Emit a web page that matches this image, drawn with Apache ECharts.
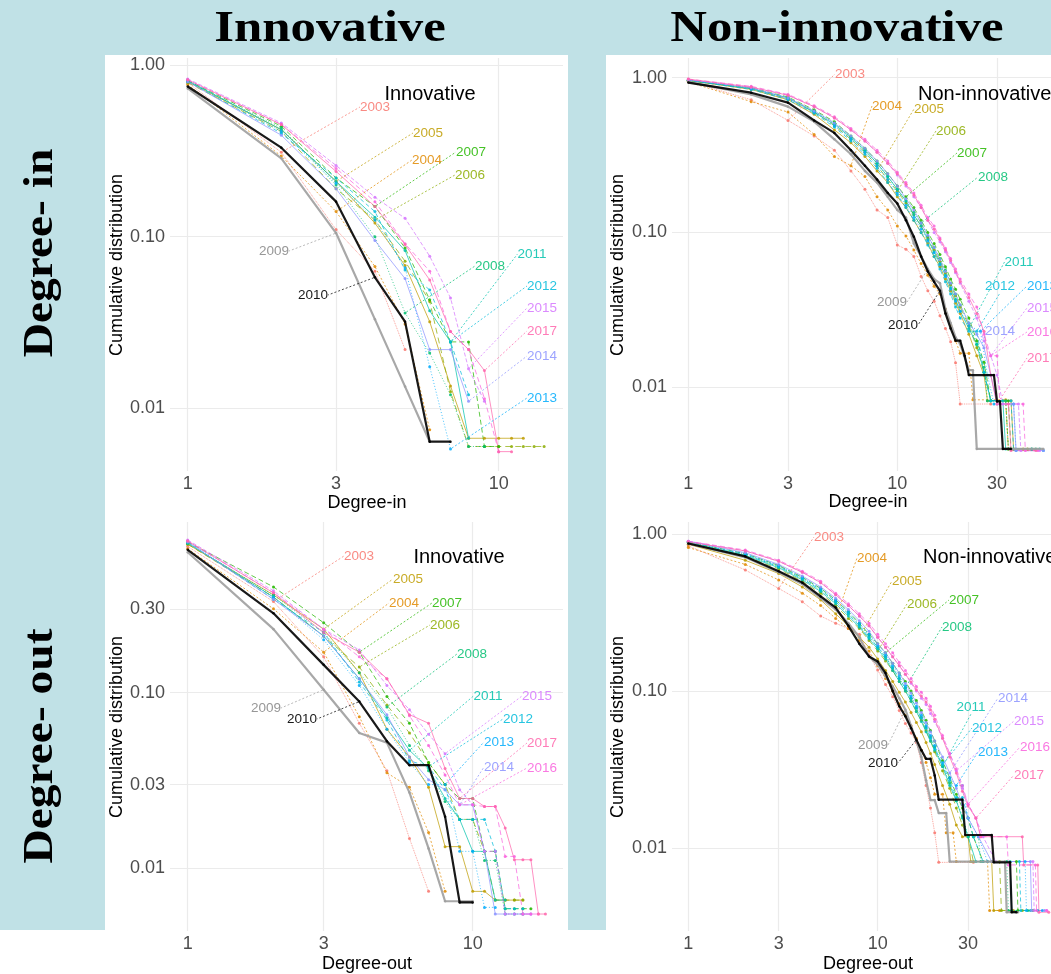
<!DOCTYPE html>
<html>
<head>
<meta charset="utf-8">
<script src="https://cdn.jsdelivr.net/npm/echarts@6/dist/echarts.min.js"></script>
<style>
html,body{margin:0;padding:0;background:#fff;}
#main{width:1051px;height:974px;}
</style>
</head>
<body>
<div id="main"></div>
<script>
// years and their styles
var years = ['2003','2004','2005','2006','2007','2008','2009','2010','2011','2012','2013','2014','2015','2016','2017'];
var yearColors = ['#F8766D','#E18A00','#BE9C00','#8CAB00','#24B700','#00BE70','#9e9e9e','#000000','#00C1AB','#00BBDA','#00ACFC','#8B93FF','#D575FE','#F962DD','#FF65AC'];
var yearDash = ['dotted',[2,2],'solid',[6,4],[5,3],[1,2],'solid','solid','solid',[4,3],[1,2],'solid',[4,2],[5,3],'solid'];

// Innovative, degree-in : value at degree 1,2,3...
var inInnov = [
	[0.79,0.31,0.11,0.063,0.022],
	[0.77,0.295,0.14,0.067,0.031,0.0075],
	[0.80,0.42,0.21,0.12,0.068,0.032,0.0135,0.0067,0.0067,0.0067,0.0067,0.0067],
	[0.79,0.41,0.19,0.125,0.072,0.042,0.0125,0.006,0.006,0.006,0.006,0.006,0.006,0.006],
	[0.81,0.44,0.22,0.15,0.086,0.043,0.0244,0.0244,0.006,0.006],
	[0.80,0.43,0.20,0.10,0.036,0.021,0.012,0.006,0.006],
	[0.73,0.286,0.105,0.033,0.0134,0.0064],
	[0.75,0.33,0.16,0.058,0.032,0.0064,0.0064],
	[0.81,0.42,0.21,0.13,0.083,0.037,0.0244,0.0067],
	[0.80,0.40,0.22,0.14,0.064,0.049,0.0244,0.012],
	[0.82,0.41,0.205,0.125,0.066,0.0175,0.0058],
	[0.80,0.39,0.19,0.095,0.057,0.022,0.022,0.011],
	[0.83,0.46,0.26,0.17,0.128,0.077,0.044,0.017,0.011],
	[0.82,0.45,0.25,0.16,0.091,0.063,0.028,0.022,0.0114,0.0056],
	[0.82,0.45,0.24,0.15,0.09,0.056,0.028,0.022,0.0166,0.0056,0.0056]
];
var inInnovAnchor = [2,3,3,4,4,5,3,4,7,7,7,8,8,null,9];

// Innovative, degree-out : value at degree 1,2,3...
var outInnov = [
	[0.68,0.33,0.16,0.067,0.036,0.0148,0.0074],
	[0.66,0.30,0.17,0.073,0.035,0.029,0.016,0.0074],
	[0.70,0.36,0.23,0.13,0.062,0.043,0.029,0.0133,0.0133,0.0074,0.0074,0.0066,0.0066,0.0066,0.0066],
	[0.70,0.35,0.21,0.14,0.085,0.059,0.04,0.03,0.019,0.019,0.0125,0.0066,0.0066,0.0066,0.0066],
	[0.72,0.40,0.25,0.17,0.095,0.067,0.04,0.03,0.025,0.025,0.0125,0.0125,0.0059,0.0059,0.0059,0.0059],
	[0.71,0.36,0.22,0.13,0.083,0.05,0.036,0.024,0.019,0.019,0.0111,0.0111,0.0055,0.0055,0.0055],
	[0.63,0.23,0.104,0.059,0.052,0.027,0.013,0.0065,0.0065,0.0065],
	[0.65,0.283,0.144,0.089,0.053,0.0387,0.0387,0.0197,0.0064,0.0064],
	[0.71,0.35,0.21,0.12,0.072,0.047,0.037,0.025,0.019,0.0125,0.0125,0.0066,0.0066],
	[0.72,0.34,0.22,0.115,0.07,0.041,0.038,0.028,0.019,0.019,0.019,0.0125,0.0059,0.0059,0.0059],
	[0.73,0.35,0.20,0.11,0.062,0.040,0.030,0.030,0.0125,0.0125,0.006,0.006],
	[0.72,0.34,0.21,0.12,0.075,0.043,0.032,0.028,0.023,0.023,0.0125,0.0055,0.0055,0.0055,0.0055,0.0055],
	[0.74,0.38,0.23,0.175,0.11,0.08,0.058,0.045,0.028,0.023,0.0125,0.0125,0.0055,0.0055,0.0055,0.0055],
	[0.73,0.37,0.23,0.16,0.12,0.074,0.05,0.034,0.023,0.023,0.0225,0.0225,0.0117,0.0117,0.0055,0.0055,0.0055],
	[0.73,0.37,0.22,0.17,0.12,0.075,0.067,0.037,0.025,0.025,0.0225,0.0225,0.017,0.0112,0.0112,0.0112,0.0055,0.0055]
];
var outInnovAnchor = [2,3,3,4,4,5,3,4,6,7,8,9,8,9,9];

// Non-innovative, degree-in : [degree, value]
var inNon = [
	[[1,0.95],[2,0.72],[3,0.53],[4,0.42],[5,0.34],[6,0.25],[7,0.19],[8,0.14],[9,0.125],[10,0.083],[11,0.078],[12,0.07],[13,0.052],[14,0.042],[15,0.036],[16,0.029],[17,0.024],[18,0.0197],[19,0.0144],[20,0.0078],[28,0.0078]],
	[[1,0.94],[2,0.70],[3,0.60],[4,0.43],[5,0.31],[6,0.27],[7,0.23],[8,0.17],[9,0.14],[10,0.11],[11,0.095],[12,0.077],[13,0.063],[14,0.053],[15,0.045],[16,0.04],[17,0.032],[18,0.025],[19,0.02],[20,0.0166],[22,0.0166],[23,0.0083],[33,0.0083],[34,0.004],[36,0.004]],
	[[1,0.96],[2,0.84],[3,0.72],[4,0.58],[5,0.46],[6,0.38],[7,0.31],[8,0.25],[9,0.21],[10,0.17],[11,0.145],[12,0.12],[13,0.10],[14,0.085],[15,0.07],[16,0.06],[17,0.05],[18,0.042],[19,0.035],[20,0.03],[22,0.022],[24,0.016],[26,0.012],[27,0.0082],[35,0.0082],[36,0.004],[40,0.004]],
	[[1,0.96],[2,0.85],[3,0.73],[4,0.60],[5,0.49],[6,0.40],[7,0.33],[8,0.27],[9,0.22],[10,0.185],[11,0.155],[12,0.13],[13,0.11],[14,0.092],[15,0.077],[16,0.065],[17,0.055],[18,0.046],[19,0.039],[20,0.033],[22,0.025],[24,0.018],[26,0.0125],[28,0.0082],[33,0.0082],[34,0.004],[42,0.004]],
	[[1,0.96],[2,0.86],[3,0.75],[4,0.62],[5,0.52],[6,0.42],[7,0.35],[8,0.29],[9,0.24],[10,0.20],[11,0.17],[12,0.145],[13,0.12],[14,0.10],[15,0.085],[16,0.072],[17,0.06],[18,0.05],[19,0.043],[20,0.037],[22,0.028],[24,0.02],[26,0.0145],[28,0.0082],[34,0.0082],[35,0.004],[44,0.004]],
	[[1,0.96],[2,0.86],[3,0.74],[4,0.61],[5,0.51],[6,0.41],[7,0.34],[8,0.28],[9,0.23],[10,0.19],[11,0.16],[12,0.135],[13,0.115],[14,0.095],[15,0.08],[16,0.068],[17,0.057],[18,0.047],[19,0.04],[20,0.034],[22,0.026],[24,0.019],[26,0.0135],[27,0.0082],[33,0.0082],[34,0.004],[46,0.004]],
	[[1,0.94],[2,0.78],[3,0.65],[4,0.52],[5,0.40],[6,0.32],[7,0.25],[8,0.21],[9,0.17],[10,0.14],[11,0.125],[12,0.085],[13,0.07],[14,0.058],[15,0.05],[16,0.047],[17,0.032],[18,0.026],[19,0.021],[20,0.019],[22,0.0129],[23,0.0129],[24,0.004],[50,0.004]],
	[[1,0.93],[2,0.80],[3,0.69],[4,0.53],[5,0.44],[6,0.34],[7,0.27],[8,0.22],[9,0.18],[10,0.154],[11,0.12],[12,0.094],[13,0.07],[14,0.056],[15,0.048],[16,0.042],[17,0.03],[18,0.024],[19,0.020],[20,0.020],[21,0.016],[22,0.012],[29,0.012],[30,0.0081],[31,0.0081],[32,0.004],[35,0.004]],
	[[1,0.96],[2,0.85],[3,0.74],[4,0.60],[5,0.50],[6,0.41],[7,0.34],[8,0.28],[9,0.23],[10,0.19],[11,0.16],[12,0.13],[13,0.11],[14,0.09],[15,0.075],[16,0.063],[17,0.053],[18,0.044],[19,0.037],[20,0.031],[22,0.024],[24,0.019],[26,0.0125],[28,0.0082],[32,0.0082],[33,0.004],[48,0.004]],
	[[1,0.96],[2,0.84],[3,0.72],[4,0.59],[5,0.48],[6,0.39],[7,0.32],[8,0.26],[9,0.21],[10,0.175],[11,0.145],[12,0.12],[13,0.10],[14,0.083],[15,0.07],[16,0.058],[17,0.048],[18,0.04],[19,0.033],[20,0.028],[22,0.023],[24,0.023],[26,0.0125],[28,0.0082],[35,0.0082],[36,0.004],[44,0.004]],
	[[1,0.97],[2,0.85],[3,0.73],[4,0.60],[5,0.49],[6,0.40],[7,0.33],[8,0.27],[9,0.22],[10,0.18],[11,0.15],[12,0.125],[13,0.105],[14,0.088],[15,0.074],[16,0.062],[17,0.052],[18,0.043],[19,0.036],[20,0.031],[22,0.025],[25,0.023],[27,0.012],[29,0.0078],[36,0.0078],[37,0.0039],[50,0.0039]],
	[[1,0.97],[2,0.86],[3,0.74],[4,0.61],[5,0.51],[6,0.42],[7,0.35],[8,0.29],[9,0.24],[10,0.20],[11,0.165],[12,0.14],[13,0.115],[14,0.096],[15,0.08],[16,0.067],[17,0.056],[18,0.047],[19,0.04],[20,0.034],[22,0.026],[24,0.022],[26,0.018],[28,0.012],[30,0.0078],[36,0.0078],[37,0.0039],[50,0.0039]],
	[[1,0.97],[2,0.87],[3,0.77],[4,0.65],[5,0.55],[6,0.46],[7,0.39],[8,0.33],[9,0.28],[10,0.235],[11,0.20],[12,0.17],[13,0.145],[14,0.12],[15,0.10],[16,0.087],[17,0.075],[18,0.064],[19,0.055],[20,0.047],[22,0.036],[24,0.028],[26,0.02],[28,0.016],[30,0.012],[32,0.0078],[38,0.0078],[39,0.0039],[48,0.0039]],
	[[1,0.98],[2,0.88],[3,0.78],[4,0.66],[5,0.56],[6,0.47],[7,0.40],[8,0.34],[9,0.29],[10,0.245],[11,0.21],[12,0.18],[13,0.15],[14,0.125],[15,0.11],[16,0.092],[17,0.079],[18,0.068],[19,0.058],[20,0.05],[22,0.04],[24,0.033],[26,0.022],[28,0.016],[30,0.016],[31,0.0078],[40,0.0078],[41,0.0039],[47,0.0039]],
	[[1,0.98],[2,0.87],[3,0.77],[4,0.65],[5,0.55],[6,0.46],[7,0.39],[8,0.33],[9,0.28],[10,0.24],[11,0.205],[12,0.175],[13,0.145],[14,0.12],[15,0.105],[16,0.09],[17,0.077],[18,0.066],[19,0.056],[20,0.048],[22,0.038],[24,0.03],[26,0.023],[28,0.012],[30,0.0078],[34,0.0078],[35,0.0039],[46,0.0039]]
];
var inNonAnchor = [3,6,8,10,11,13,14,16,22,24,25,26,28,28,30];

// Non-innovative, degree-out : [degree, value]
var outNon = [
	[[1,0.84],[2,0.59],[3,0.45],[4,0.37],[5,0.30],[6,0.27],[7,0.25],[8,0.23],[9,0.17],[10,0.136],[11,0.11],[12,0.092],[13,0.075],[14,0.062],[15,0.054],[16,0.047],[17,0.035],[18,0.025],[19,0.018],[20,0.0125],[21,0.0081],[32,0.0081]],
	[[1,0.82],[2,0.64],[3,0.51],[4,0.42],[5,0.35],[6,0.29],[7,0.25],[8,0.21],[9,0.18],[10,0.145],[11,0.12],[12,0.10],[13,0.083],[14,0.07],[15,0.06],[16,0.05],[17,0.042],[18,0.035],[19,0.028],[20,0.022],[22,0.022],[23,0.0125],[25,0.0125],[26,0.0082],[38,0.0082],[39,0.004],[44,0.004]],
	[[1,0.86],[2,0.68],[3,0.56],[4,0.46],[5,0.38],[6,0.31],[7,0.26],[8,0.22],[9,0.19],[10,0.16],[11,0.135],[12,0.115],[13,0.098],[14,0.085],[15,0.073],[16,0.063],[17,0.055],[18,0.047],[19,0.04],[20,0.034],[22,0.025],[24,0.019],[26,0.014],[28,0.0118],[30,0.0118],[31,0.0082],[40,0.0082],[41,0.004],[52,0.004]],
	[[1,0.88],[2,0.72],[3,0.60],[4,0.50],[5,0.42],[6,0.35],[7,0.29],[8,0.25],[9,0.21],[10,0.18],[11,0.155],[12,0.135],[13,0.115],[14,0.10],[15,0.086],[16,0.074],[17,0.065],[18,0.056],[19,0.048],[20,0.041],[22,0.031],[24,0.024],[26,0.018],[28,0.014],[30,0.012],[32,0.0082],[44,0.0082],[45,0.004],[58,0.004]],
	[[1,0.89],[2,0.75],[3,0.63],[4,0.53],[5,0.45],[6,0.38],[7,0.32],[8,0.27],[9,0.23],[10,0.20],[11,0.175],[12,0.15],[13,0.13],[14,0.115],[15,0.10],[16,0.087],[17,0.075],[18,0.065],[19,0.056],[20,0.048],[22,0.036],[24,0.028],[26,0.022],[28,0.018],[30,0.0155],[32,0.0118],[36,0.0082],[54,0.0082],[55,0.004],[66,0.004]],
	[[1,0.88],[2,0.74],[3,0.62],[4,0.52],[5,0.44],[6,0.37],[7,0.31],[8,0.265],[9,0.225],[10,0.19],[11,0.165],[12,0.14],[13,0.12],[14,0.105],[15,0.09],[16,0.078],[17,0.068],[18,0.059],[19,0.051],[20,0.044],[22,0.033],[24,0.026],[26,0.02],[28,0.016],[30,0.0118],[34,0.0118],[35,0.0082],[48,0.0082],[49,0.004],[62,0.004]],
	[[1,0.87],[2,0.71],[3,0.57],[4,0.48],[5,0.39],[6,0.33],[7,0.27],[8,0.22],[9,0.166],[10,0.147],[11,0.124],[12,0.107],[13,0.09],[14,0.076],[15,0.06],[16,0.048],[17,0.038],[18,0.027],[19,0.0202],[20,0.0202],[21,0.0167],[23,0.0167],[24,0.0082],[47,0.0082],[48,0.0039],[55,0.0039]],
	[[1,0.87],[2,0.72],[3,0.58],[4,0.49],[5,0.40],[6,0.34],[7,0.26],[8,0.20],[9,0.166],[10,0.154],[11,0.13],[12,0.10],[13,0.08],[14,0.069],[15,0.058],[16,0.049],[17,0.042],[18,0.037],[19,0.037],[20,0.029],[21,0.0203],[28,0.0203],[29,0.0121],[40,0.0121],[41,0.0081],[50,0.0081],[51,0.0039],[54,0.0039]],
	[[1,0.88],[2,0.73],[3,0.61],[4,0.51],[5,0.43],[6,0.36],[7,0.30],[8,0.255],[9,0.215],[10,0.185],[11,0.16],[12,0.135],[13,0.115],[14,0.10],[15,0.086],[16,0.074],[17,0.064],[18,0.055],[19,0.048],[20,0.042],[22,0.033],[24,0.025],[26,0.02],[28,0.0155],[30,0.0118],[33,0.0082],[50,0.0082],[51,0.004],[64,0.004]],
	[[1,0.89],[2,0.74],[3,0.62],[4,0.52],[5,0.44],[6,0.37],[7,0.31],[8,0.26],[9,0.22],[10,0.19],[11,0.165],[12,0.14],[13,0.12],[14,0.104],[15,0.09],[16,0.078],[17,0.067],[18,0.058],[19,0.05],[20,0.043],[22,0.034],[24,0.027],[26,0.021],[28,0.021],[30,0.0155],[32,0.0118],[36,0.0082],[56,0.0082],[57,0.004],[70,0.004]],
	[[1,0.89],[2,0.75],[3,0.63],[4,0.53],[5,0.45],[6,0.38],[7,0.32],[8,0.27],[9,0.23],[10,0.195],[11,0.17],[12,0.145],[13,0.125],[14,0.108],[15,0.093],[16,0.08],[17,0.07],[18,0.06],[19,0.052],[20,0.045],[22,0.035],[24,0.028],[26,0.025],[28,0.025],[30,0.0155],[34,0.0118],[38,0.0082],[60,0.0082],[61,0.004],[74,0.004]],
	[[1,0.90],[2,0.76],[3,0.64],[4,0.54],[5,0.46],[6,0.39],[7,0.33],[8,0.28],[9,0.24],[10,0.20],[11,0.175],[12,0.15],[13,0.13],[14,0.112],[15,0.097],[16,0.084],[17,0.073],[18,0.063],[19,0.055],[20,0.048],[22,0.038],[24,0.03],[26,0.024],[28,0.019],[30,0.0155],[34,0.0118],[40,0.0082],[64,0.0082],[65,0.004],[76,0.004]],
	[[1,0.90],[2,0.78],[3,0.67],[4,0.57],[5,0.49],[6,0.41],[7,0.35],[8,0.30],[9,0.26],[10,0.22],[11,0.19],[12,0.165],[13,0.145],[14,0.128],[15,0.112],[16,0.10],[17,0.09],[18,0.082],[19,0.072],[20,0.064],[22,0.05],[24,0.04],[26,0.031],[28,0.024],[30,0.019],[33,0.0155],[36,0.0118],[42,0.0082],[66,0.0082],[67,0.004],[78,0.004]],
	[[1,0.90],[2,0.79],[3,0.68],[4,0.58],[5,0.50],[6,0.42],[7,0.36],[8,0.31],[9,0.27],[10,0.23],[11,0.20],[12,0.175],[13,0.152],[14,0.135],[15,0.12],[16,0.107],[17,0.098],[18,0.09],[19,0.08],[20,0.07],[22,0.052],[24,0.04],[26,0.032],[28,0.025],[30,0.019],[33,0.0155],[35,0.0118],[48,0.0118],[49,0.0078],[68,0.0078],[69,0.004],[78,0.004]],
	[[1,0.89],[2,0.78],[3,0.67],[4,0.57],[5,0.49],[6,0.41],[7,0.35],[8,0.30],[9,0.26],[10,0.22],[11,0.19],[12,0.165],[13,0.145],[14,0.128],[15,0.114],[16,0.102],[17,0.093],[18,0.085],[19,0.076],[20,0.066],[22,0.05],[24,0.038],[26,0.03],[28,0.023],[30,0.0185],[33,0.0155],[35,0.0118],[58,0.0118],[59,0.0078],[70,0.0078],[71,0.0039],[80,0.0039]]
];
var outNonAnchor = [3,6,8,10,11,14,14,16,22,22,26,24,25,30,32];

// tick values (in data units)
var xTicksShort = [1,3,10];
var xTicksLong = [1,3,10,30];
var yTicksDecade = [1,0.1,0.01];
var yTicksOutInnov = [0.3,0.1,0.03,0.01];

// where the year labels sit (pixel, text centre), same order as years
var labelXY = [
	// innovative in
	[[375,107],[427,160],[428,133],[470,175],[471,152],[490,266],[274,251],[313,295],[532,254],[542,286],[542,398],[542,356],[542,308],null,[542,331]],
	// non-innovative in
	[[850,74],[887,106],[929,109],[951,131],[972,153],[993,177],[892,302],[903,325],[1019,262],[1000,286],[1042,286],[1000,331],[1042,308],[1042,332],[1042,358]],
	// innovative out
	[[359,556],[404,603],[408,579],[445,625],[447,603],[472,654],[266,708],[302,719],[488,696],[518,719],[499,742],[499,767],[537,696],[542,768],[542,743]],
	// non-innovative out
	[[829,537],[872,558],[907,581],[922,604],[964,600],[957,627],[873,745],[883,763],[971,707],[987,728],[993,752],[1013,698],[1029,721],[1035,747],[1029,775]]
];

// grid boxes and axis ranges (log10 units)
var panels = [
	{grid:{left:170, top:58, width:393, height:413}, x:[-0.0569,1.2068], y:[-2.3646,0.0408], xt:xTicksShort, yt:yTicksDecade},
	{grid:{left:672, top:58, width:420, height:413}, x:[-0.078,1.9316], y:[-2.5407,0.1273], xt:xTicksLong, yt:yTicksDecade},
	{grid:{left:170, top:522, width:393, height:409}, x:[-0.0621,1.3168], y:[-2.3563,-0.0285], xt:xTicksShort, yt:yTicksOutInnov},
	{grid:{left:672, top:522, width:430, height:409}, x:[-0.0861,2.1843], y:[-2.5287,0.0764], xt:xTicksLong, yt:yTicksDecade}
];

var FONT = 'Liberation Sans';
var SERIF = 'Liberation Serif';

function lg(v){ return Math.log(v) / Math.LN10; }

function arrToPairs(row){
	var out = [];
	for(var i = 0; i < row.length; i++){
		out.push([i + 1, row[i]]);
	}
	return out;
}

function buildSeries(g, rows, anchors){
	var list = [];
	for(var k = 0; k < rows.length; k++){
		var pts = rows[k];
		var color = yearColors[k];
		var bold = (k == 6 || k == 7);
		// nearest point to the anchor degree carries the label
		var ai = -1;
		if(anchors[k] != null){
			var best = 1e9;
			for(var j = 0; j < pts.length; j++){
				var d = Math.abs(lg(pts[j][0]) - lg(anchors[k]));
				if(d < best){ best = d; ai = j; }
			}
		}
		var data = [];
		for(var j = 0; j < pts.length; j++){
			var item = {value:[lg(pts[j][0]), lg(pts[j][1])]};
			if(j == ai){
				item.label = {show:true};
			}
			data.push(item);
		}
		var pos = labelXY[g][k];
		var s = {
			type:'line', name:years[k], xAxisIndex:g, yAxisIndex:g,
			data:data, silent:true, animation:false,
			symbol:'circle', symbolSize: bold ? 2.5 : 3, showSymbol:true,
			z: bold ? (k == 7 ? 5 : 4) : 2,
			lineStyle:{color:color, width: bold ? 2.2 : 0.9, type:yearDash[k], opacity: bold ? 0.9 : 0.8},
			itemStyle:{color:color, opacity: bold ? 0.9 : 0.85},
			emphasis:{disabled:true},
			label:{show:false, formatter:years[k], color: k == 6 ? '#8c8c8c' : color,
				fontSize:13.5, fontFamily:FONT, align:'center', verticalAlign:'middle'},
			labelLine:{show:true, lineStyle:{color:color, width:0.8, type:[2,2], opacity:0.9}}
		};
		if(pos){
			s.labelLayout = {x:pos[0], y:pos[1], align:'center', verticalAlign:'middle'};
		}
		list.push(s);
	}
	return list;
}

function axisPair(g, p){
	var xt = p.xt.map(lg), yt = p.yt.map(lg);
	var xa = {
		type:'value', gridIndex:g, min:p.x[0], max:p.x[1],
		axisLine:{show:false}, axisTick:{show:false, customValues:xt},
		axisLabel:{customValues:xt, color:'#4d4d4d', fontSize:18, fontFamily:FONT, margin:4,
			formatter:function(v){ return String(Math.round(Math.pow(10, v))); }},
		splitLine:{show:true, lineStyle:{color:'#ebebeb', width:1.2}}
	};
	var ya = {
		type:'value', gridIndex:g, min:p.y[0], max:p.y[1],
		axisLine:{show:false}, axisTick:{show:false, customValues:yt},
		axisLabel:{customValues:yt, color:'#4d4d4d', fontSize:18, fontFamily:FONT, margin:5,
			formatter:function(v){ return Math.pow(10, v).toFixed(2); }},
		splitLine:{show:true, lineStyle:{color:'#ebebeb', width:1.2}}
	};
	return [xa, ya];
}

function txt(str, x, y, style, extra){
	var el = {type:'text', x:x, y:y, z:10, silent:true,
		style:{text:str, fill:'#000', textAlign:'center', textVerticalAlign:'middle', font:style}};
	for(var k in extra){ el[k] = extra[k]; }
	return el;
}

var chart = echarts.init(document.getElementById('main'), null, {renderer:'canvas'});

var grids = [], xAxes = [], yAxes = [];
for(var i = 0; i < panels.length; i++){
	var gr = panels[i].grid;
	grids.push({left:gr.left, top:gr.top, width:gr.width, height:gr.height, containLabel:false, outerBoundsMode:'none'});
	var ax = axisPair(i, panels[i]);
	xAxes.push(ax[0]);
	yAxes.push(ax[1]);
}

var series = []
	.concat(buildSeries(0, inInnov.map(arrToPairs), inInnovAnchor))
	.concat(buildSeries(1, inNon, inNonAnchor))
	.concat(buildSeries(2, outInnov.map(arrToPairs), outInnovAnchor))
	.concat(buildSeries(3, outNon, outNonAnchor));

var BLUE = '#c0e1e6';
var graphic = [
	// blue frame around the white panels
	{type:'rect', shape:{x:0, y:0, width:1051, height:55}, style:{fill:BLUE}, z:-1, silent:true},
	{type:'rect', shape:{x:0, y:55, width:105, height:875}, style:{fill:BLUE}, z:-1, silent:true},
	{type:'rect', shape:{x:568, y:55, width:38, height:875}, style:{fill:BLUE}, z:-1, silent:true},
	// headers
	txt('Innovative', 330, 29, 'bold 45px "' + SERIF + '"', {scaleX:1.13}),
	txt('Non-innovative', 837, 29, 'bold 45px "' + SERIF + '"', {scaleX:1.13}),
	txt('Degree- in', 41, 253, 'bold 42px "' + SERIF + '"', {scaleX:1.13, rotation:Math.PI / 2}),
	txt('Degree- out', 41, 746, 'bold 42px "' + SERIF + '"', {scaleX:1.13, rotation:Math.PI / 2}),
	// panel annotations
	txt('Innovative', 430, 94, '20px "' + FONT + '"'),
	txt('Non-innovative', 918, 94, '20px "' + FONT + '"'),
	txt('Innovative', 459, 557, '20px "' + FONT + '"'),
	txt('Non-innovative', 923, 557, '20px "' + FONT + '"'),
	// axis titles
	txt('Degree-in', 367, 503, '18px "' + FONT + '"'),
	txt('Degree-in', 868, 502, '18px "' + FONT + '"'),
	txt('Degree-out', 367, 964, '18px "' + FONT + '"'),
	txt('Degree-out', 868, 964, '18px "' + FONT + '"'),
	txt('Cumulative distribution', 117, 265, '18px "' + FONT + '"', {rotation:Math.PI / 2}),
	txt('Cumulative distribution', 618, 265, '18px "' + FONT + '"', {rotation:Math.PI / 2}),
	txt('Cumulative distribution', 117, 727, '18px "' + FONT + '"', {rotation:Math.PI / 2}),
	txt('Cumulative distribution', 618, 727, '18px "' + FONT + '"', {rotation:Math.PI / 2})
];
// left-aligned annotations on the right panels
graphic[8].style.textAlign = 'left';
graphic[10].style.textAlign = 'left';

chart.setOption({
	animation:false,
	backgroundColor:'#ffffff',
	grid:grids,
	xAxis:xAxes,
	yAxis:yAxes,
	series:series,
	graphic:graphic
});
</script>
</body>
</html>
